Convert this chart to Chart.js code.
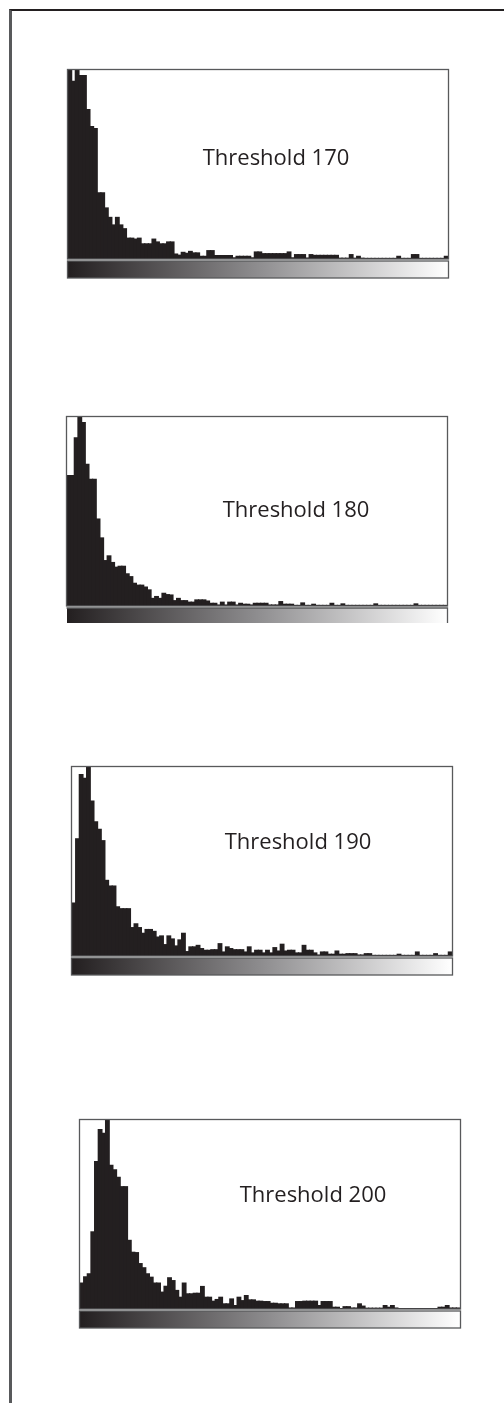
<!DOCTYPE html>
<html>
<head>
<meta charset="utf-8">
<title>Threshold histograms</title>
<script src="https://cdn.jsdelivr.net/npm/chart.js@4.4.0/dist/chart.umd.min.js"></script>
<style>
  html, body { margin: 0; padding: 0; background: #fff; }
  body { width: 504px; height: 1403px; position: relative; overflow: hidden; }
  .frame {
    position: absolute; left: 9px; top: 9px; width: 520px; height: 1420px;
    border-top: 2px solid #231f20; border-left: 3px solid #58595b;
  }
  .panel { position: absolute; width: 384px; height: 214px; }
</style>
</head>
<body>
<div class="frame"></div>
<div class="panel" style="left:66px; top:68px"><canvas id="hist0"></canvas></div>
<div class="panel" style="left:65px; top:415px"><canvas id="hist1"></canvas></div>
<div class="panel" style="left:70px; top:765px"><canvas id="hist2"></canvas></div>
<div class="panel" style="left:78px; top:1118px"><canvas id="hist3"></canvas></div>

<script>
// histogram bins (grey level classes), 104 per panel
const bins = Array.from({ length: 104 }, (_, i) => i);

const thresholds = ['Threshold 170', 'Threshold 180', 'Threshold 190', 'Threshold 200'];

// bar heights in % of the tallest bin
const t170 = [
  100, 94, 100, 97, 97, 79, 70, 69, 35, 35,
  27, 22, 18, 22, 18, 16, 11, 11, 10.5, 11,
  8, 8, 8, 10.5, 9, 8, 8, 9, 9, 2.6,
  2, 3.5, 3, 4, 3.2, 3.2, 1.4, 1.4, 4.4, 4.4,
  1.8, 1.8, 1.8, 1.8, 1.8, 0.6, 1.4, 1.4, 1.4, 1.4,
  0.6, 3.7, 3.7, 2.8, 2.8, 2.8, 2.8, 2.8, 2.8, 2.8,
  3.7, 0.6, 2.3, 2.3, 2.3, 0.5, 2.3, 1.9, 1.9, 1.9,
  1.9, 1.9, 1.9, 1.9, 0.4, 0.4, 0.4, 2.3, 0.4, 1.4,
  0.4, 0.3, 0.3, 0.3, 0.3, 0.3, 0.3, 0.3, 0.3, 0.3,
  1.4, 0.3, 0.3, 0.3, 2.3, 2.3, 0.3, 0.3, 0.3, 0.3,
  0.3, 0.3, 0.3, 1.4
];

const t180 = [
  69, 69, 89, 100, 97, 75, 67, 67, 46, 36,
  24, 26.5, 23, 20.5, 21, 21, 17, 15.5, 12, 11,
  11, 10, 8.5, 4, 5, 4, 6.7, 6, 5.8, 2.8,
  4, 2.8, 2.8, 2, 2, 3.2, 3.2, 3.2, 2.6, 1.4,
  1.4, 0.5, 2, 0.5, 2, 2, 0.5, 1.4, 0.9, 0.9,
  0.5, 1.4, 1.4, 1.4, 1.4, 0.5, 0.5, 0.5, 2.3, 0.9,
  0.9, 0.9, 0.3, 0.3, 1.6, 0.3, 0.3, 0.9, 0.3, 0.3,
  0.3, 0.3, 1.4, 0.3, 0.3, 1.1, 0.3, 0.3, 0.3, 0.3,
  0.3, 0.3, 0.3, 0.3, 1.1, 0.3, 0.3, 0.3, 0.3, 0.3,
  0.3, 0.3, 0.3, 0.3, 0.3, 1.1, 0.3, 0.3, 0.3, 0.3,
  0.3, 0.3, 0.3, 0.3
];

const t190 = [
  28, 62, 96, 94, 100, 82, 71, 67, 61, 40,
  37, 37, 26, 25, 25, 25, 15, 17, 15, 12,
  14, 14, 13, 10, 10.6, 6, 10.6, 9, 5.3, 8.5,
  12, 2.3, 4.8, 4.8, 5.6, 3.9, 3, 3, 3.3, 3.3,
  6.5, 2.1, 4.8, 3.9, 3.3, 3.3, 3.3, 2.1, 4.8, 1.6,
  3, 3, 1.6, 3, 1.6, 4.4, 2.6, 6.2, 2.6, 3,
  3, 1.6, 1.6, 5.6, 3, 3, 1.6, 0.5, 2.1, 2.1,
  0.9, 0.9, 2.6, 0.9, 0.9, 1.2, 1.2, 1.2, 0.5, 0.5,
  1.2, 1.2, 0.3, 0.3, 0.3, 0.3, 0.3, 0.3, 0.3, 0.9,
  0.3, 0.3, 0.3, 0.3, 2.1, 0.3, 0.3, 0.3, 0.3, 1.2,
  0.3, 0.3, 0.3, 2.1
];

const t200 = [
  13.7, 17, 18.6, 40.8, 78, 94.9, 93, 100, 76, 73.6,
  69.7, 64.7, 64.7, 36.3, 30, 29.8, 24, 21.8, 18.6, 16.8,
  13.7, 13.7, 8.9, 12, 16.5, 15, 9.8, 6.2, 13.7, 8,
  8, 8.3, 8.3, 11.9, 6.2, 6.2, 4.1, 5, 6.2, 2.7,
  2.7, 5.3, 1.8, 6.2, 4.4, 7.1, 4.8, 4.8, 4.1, 4.1,
  3.9, 3.9, 3, 3, 2.7, 2.7, 2.7, 0.5, 0.5, 3.9,
  3.9, 4.1, 4.1, 4.1, 4.1, 1.8, 3.9, 3.9, 3.9, 0.9,
  0.9, 0.2, 1.2, 1.2, 0.5, 0.5, 2.7, 1.5, 0.4, 0.4,
  0.4, 0.4, 0.4, 1.8, 0.9, 1.8, 0.5, 0.2, 0.2, 0.2,
  0.2, 0.2, 0.2, 0.2, 0.2, 0.2, 0.2, 0.2, 0.9, 0.9,
  1.8, 0.5, 0.5, 0.5
];

const series = [t170, t180, t190, t200];

// where the label sits inside each plot box (px from box left / top)
const labelPos = [[208, 95], [229, 100], [226, 82], [233, 82]];
// second panel's strip is cut off at the bottom in the original
const stripOpenBottom = [false, true, false, false];

const INK = '#231f20';
const EDGE = '#58595b';

// draws the box, the grey-scale strip under it and the label
const panelDecor = {
  id: 'panelDecor',
  afterDraw(chart, args, opts) {
    const { ctx, chartArea: a } = chart;
    ctx.save();

    ctx.strokeStyle = EDGE;
    ctx.lineWidth = 1.3;
    ctx.strokeRect(a.left - 0.5, a.top - 0.5, a.width + 1, a.height + 0.5);

    const gy = a.bottom + 2, gh = opts.openBottom ? 15 : 17;
    const grad = ctx.createLinearGradient(a.left, 0, a.right, 0);
    grad.addColorStop(0, INK);
    grad.addColorStop(0.5, '#8e8d8f');
    grad.addColorStop(1, '#ffffff');
    ctx.fillStyle = grad;
    ctx.fillRect(a.left, gy, a.width, gh);
    if (opts.openBottom) {
      ctx.beginPath();
      ctx.moveTo(a.left - 0.5, gy);
      ctx.lineTo(a.right + 0.5, gy);
      ctx.lineTo(a.right + 0.5, gy + gh);
      ctx.stroke();
    } else {
      ctx.strokeRect(a.left - 0.5, gy, a.width + 1, gh);
    }

    ctx.fillStyle = INK;
    ctx.font = '22px "Open Sans"';
    ctx.textAlign = 'center';
    ctx.textBaseline = 'alphabetic';
    ctx.fillText(opts.label, a.left + opts.x, a.top + opts.y);
    ctx.restore();
  }
};

series.forEach((values, i) => {
  new Chart(document.getElementById('hist' + i), {
    type: 'bar',
    data: {
      labels: bins,
      datasets: [{
        data: values,
        backgroundColor: INK,
        borderWidth: 0,
        inflateAmount: 0.6,
        barPercentage: 1.0,
        categoryPercentage: 1.0
      }]
    },
    options: {
      responsive: true,
      maintainAspectRatio: false,
      animation: false,
      layout: { padding: { left: 2, right: 2, top: 2, bottom: 23 } },
      scales: {
        x: { display: false },
        y: { display: false, min: 0, max: 100 }
      },
      plugins: {
        legend: { display: false },
        tooltip: { enabled: false },
        panelDecor: {
          label: thresholds[i],
          x: labelPos[i][0],
          y: labelPos[i][1],
          openBottom: stripOpenBottom[i]
        }
      }
    },
    plugins: [panelDecor]
  });
});
</script>
</body>
</html>
